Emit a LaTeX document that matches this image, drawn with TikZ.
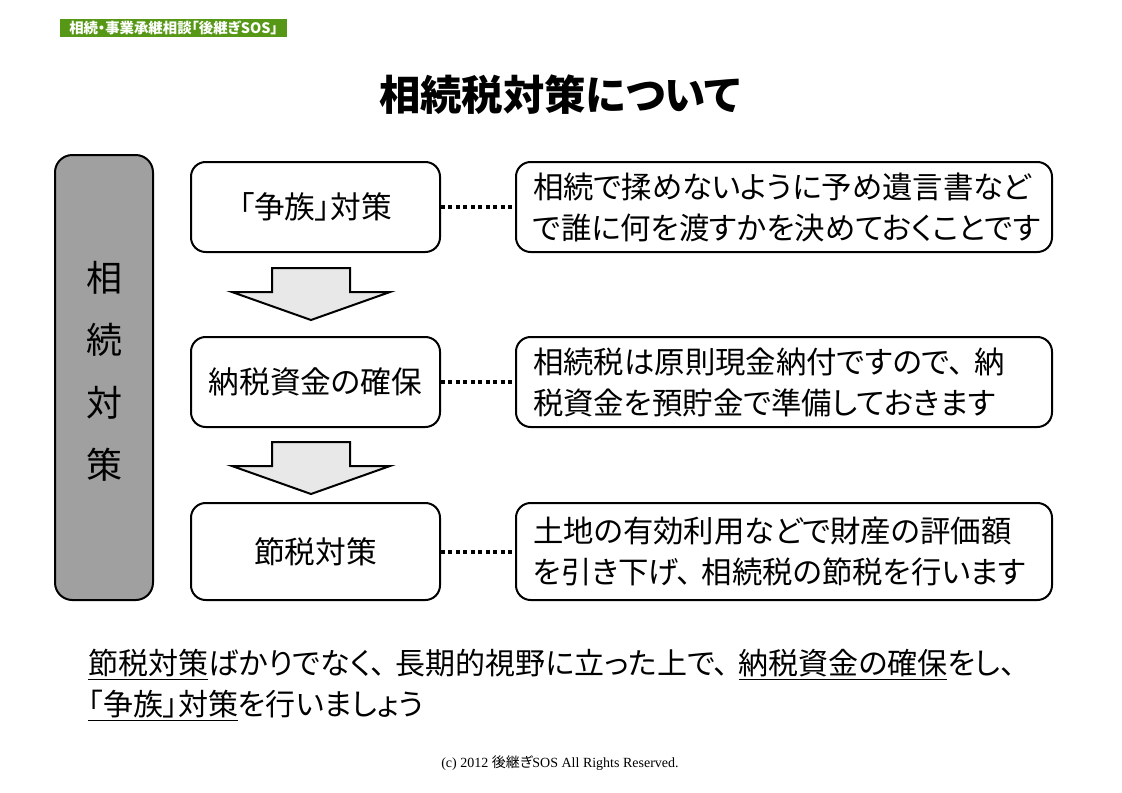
\documentclass[tikz,border=0pt]{standalone}
\usepackage{fontspec}
\setmainfont{Noto Sans CJK JP}[RawFeature=+palt]
\newfontfamily\latinserif{Liberation Serif}
\newcommand\tou{、\hspace{0.33em}}
\definecolor{bannergreen}{RGB}{86,152,22}
\definecolor{sidegray}{RGB}{160,160,160}
\definecolor{arrowgray}{RGB}{232,232,232}
\tikzset{
  leftbox/.style={draw=black, line width=1.5pt, rounded corners=11pt, fill=white,
    minimum width=186.75pt, inner sep=0pt, font=\fontsize{23pt}{26pt}\selectfont},
  rightbox/.style={draw=black, line width=1.5pt, rounded corners=11pt, fill=white,
    minimum width=402pt, text width=376.5pt, align=left, inner xsep=12.75pt, inner ysep=0pt,
    font=\fontsize{22.8pt}{30.75pt}\selectfont},
  dotline/.style={line width=3pt, dash pattern=on 3pt off 2.6pt},
  blockarrow/.style={draw=black, line width=1.5pt, fill=arrowgray, line join=miter},
}
\begin{document}
\begin{tikzpicture}[x=0.75pt, y=-0.75pt]
\useasboundingbox (0,0) rectangle (1122,793);
\fill[white] (0,0) rectangle (1122,793);
% banner
\node[fill=bannergreen, minimum width=170.25pt, minimum height=13.5pt, inner sep=0pt,
  text=white, font=\bfseries\fontsize{10.8pt}{12pt}\selectfont] (banner) at (173.5,28) {相続・事業承継相談「後継ぎSOS」};
% title
\node[font=\bfseries\fontsize{31pt}{36pt}\selectfont] (title) at (560,95) {相続税対策について};
% side box
\node[draw=black, line width=1.5pt, rounded corners=13pt, fill=sidegray,
  minimum width=73.5pt, minimum height=333.75pt, inner sep=0pt] (side) at (104,377.5) {};
\foreach \c/\yy in {相/278, 続/340, 対/403, 策/465}
  \node[font=\fontsize{27pt}{30pt}\selectfont] at (104,\yy) {\c};
% left boxes
\node[leftbox, minimum height=67.5pt] (a1) at (315.5,207) {「争族」対策};
\node[leftbox, minimum height=67.5pt] (a2) at (315.5,382) {納税資金の確保};
\node[leftbox, minimum height=72.75pt] (a3) at (315.5,551.5) {節税対策};
% right boxes
\node[rightbox, minimum height=67.5pt] (r1) at (784,207) {相続で揉めないように予め遺言書など\\で誰に何を渡すかを決めておくことです};
\node[rightbox, minimum height=67.5pt] (r2) at (784,382) {相続税は原則現金納付ですので\tou 納\\税資金を預貯金で準備しておきます};
\node[rightbox, minimum height=72.75pt] (r3) at (784,551.5) {土地の有効利用などで財産の評価額\\を引き下げ\tou 相続税の節税を行います};
% dotted connectors
\draw[dotline] (a1.east) -- (r1.west);
\draw[dotline] (a2.east) -- (r2.west);
\draw[dotline] (a3.east) -- (r3.west);
% block arrows
\draw[blockarrow] (272,268) -- (350,268) -- (350,292) -- (390,292) -- (311,320) -- (232,292) -- (272,292) -- cycle;
\draw[blockarrow] (272,442) -- (350,442) -- (350,466) -- (390,466) -- (311,494) -- (232,466) -- (272,466) -- cycle;
% bottom text
\node[anchor=west, align=left, inner sep=0pt, font=\fontsize{22.5pt}{30.75pt}\selectfont] (summary) at (88,685)
  {\underline{節税対策}ばかりでなく\tou 長期的視野に立った上で\tou \underline{納税資金の確保}をし\tou\\\underline{「争族」対策}を行いましょう};
% copyright
\node[font=\fontsize{10.5pt}{12pt}\selectfont] (copy) at (560,763) {{\latinserif (c) 2012 }後継ぎ{\latinserif SOS All Rights Reserved.}};
\end{tikzpicture}
\end{document}
